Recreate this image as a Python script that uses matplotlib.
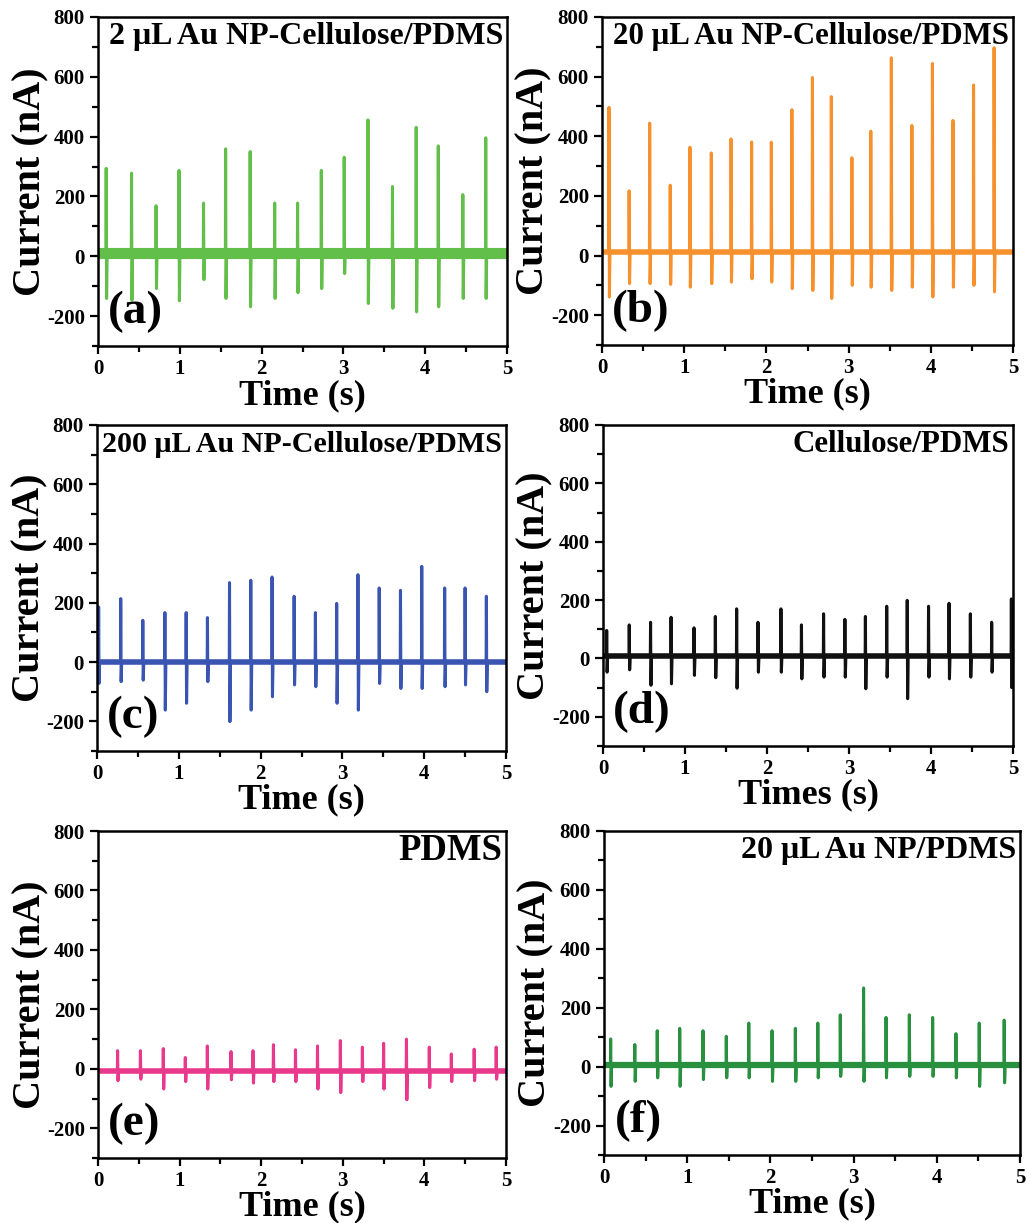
import matplotlib
matplotlib.use("Agg")
from matplotlib import pyplot as plt
from matplotlib.ticker import MultipleLocator

plt.rcParams['font.family'] = ['Liberation Serif', 'DejaVu Serif']
plt.rcParams['font.weight'] = 'bold'
plt.rcParams['axes.unicode_minus'] = False

# (a) 2 uL Au NP-Cellulose/PDMS
a_times = [0.10, 0.41, 0.71, 0.99, 1.29, 1.56, 1.86, 2.16, 2.44, 2.73, 3.01, 3.30, 3.60, 3.89, 4.16, 4.46, 4.74]
a_peaks = [294, 278, 169, 287, 178, 359, 350, 178, 178, 287, 331, 456, 233, 431, 369, 206, 396]
a_troughs = [-141, -147, -108, -149, -78, -141, -169, -141, -122, -108, -58, -158, -174, -186, -169, -141, -141]

# (b) 20 uL Au NP-Cellulose/PDMS
b_times = [0.085, 0.33, 0.58, 0.83, 1.07, 1.33, 1.57, 1.82, 2.06, 2.31, 2.56, 2.79, 3.04, 3.27, 3.52, 3.77, 4.02, 4.27, 4.52, 4.77]
b_peaks = [497, 217, 444, 236, 363, 344, 391, 381, 380, 489, 597, 533, 328, 417, 663, 436, 644, 453, 572, 697]
b_troughs = [-139, -94, -94, -97, -106, -94, -89, -78, -89, -111, -117, -144, -100, -106, -117, -106, -139, -106, -100, -122]

# (c) 200 uL Au NP-Cellulose/PDMS
c_times = [0.02, 0.29, 0.56, 0.83, 1.09, 1.35, 1.62, 1.88, 2.14, 2.41, 2.67, 2.93, 3.19, 3.45, 3.71, 3.97, 4.25, 4.50, 4.76]
c_peaks = [186, 214, 141, 167, 167, 150, 268, 276, 287, 222, 167, 198, 295, 250, 242, 323, 250, 250, 222]
c_troughs = [-72, -66, -61, -162, -139, -66, -201, -162, -117, -77, -83, -139, -162, -72, -89, -89, -83, -77, -100]

# (d) Cellulose/PDMS
d_times = [0.045, 0.32, 0.58, 0.83, 1.11, 1.37, 1.63, 1.89, 2.17, 2.42, 2.69, 2.95, 3.20, 3.46, 3.71, 3.97, 4.22, 4.48, 4.74, 4.98]
d_peaks = [96, 115, 124, 141, 105, 144, 170, 124, 170, 115, 153, 134, 144, 179, 199, 179, 189, 153, 124, 204]
d_troughs = [-47, -39, -92, -87, -58, -66, -102, -47, -47, -70, -64, -64, -104, -64, -138, -64, -70, -64, -47, -100]

# (e) PDMS
e_times = [0.24, 0.52, 0.80, 1.07, 1.34, 1.63, 1.90, 2.15, 2.42, 2.69, 2.97, 3.24, 3.50, 3.78, 4.06, 4.33, 4.61, 4.88]
e_peaks = [61, 61, 68, 38, 77, 58, 61, 81, 64, 77, 95, 73, 86, 100, 73, 50, 66, 73]
e_troughs = [-40, -35, -68, -43, -68, -37, -48, -43, -43, -68, -80, -43, -68, -104, -63, -43, -40, -35]

# (f) 20 uL Au NP/PDMS
f_times = [0.08, 0.37, 0.64, 0.91, 1.19, 1.47, 1.74, 2.02, 2.30, 2.57, 2.84, 3.12, 3.39, 3.67, 3.95, 4.23, 4.51, 4.81]
f_peaks = [94, 75, 122, 130, 122, 103, 148, 122, 130, 148, 176, 267, 167, 176, 167, 112, 148, 158]
f_troughs = [-67, -50, -38, -67, -44, -38, -38, -50, -50, -38, -33, -50, -38, -33, -33, -38, -67, -55]

baselines = [10, 11, 0, 8, -6, 7]
titles = ['2 \u03bcL Au NP-Cellulose/PDMS', '20 \u03bcL Au NP-Cellulose/PDMS',
          '200 \u03bcL Au NP-Cellulose/PDMS', 'Cellulose/PDMS', 'PDMS', '20 \u03bcL Au NP/PDMS']
letters = ['(a)', '(b)', '(c)', '(d)', '(e)', '(f)']
xlabels = ['Time (s)', 'Time (s)', 'Time (s)', 'Times (s)', 'Time (s)', 'Time (s)']
colors = ['#62bf4a', '#f6912e', '#3a55b1', '#111111', '#e8398c', '#28903f']

series = [(a_times, a_peaks, a_troughs), (b_times, b_peaks, b_troughs),
          (c_times, c_peaks, c_troughs), (d_times, d_peaks, d_troughs),
          (e_times, e_peaks, e_troughs), (f_times, f_peaks, f_troughs)]

# axes boxes in pixels: left, top, right, bottom
boxes = [(98, 17, 507, 346), (602, 17, 1013, 345),
         (97, 425, 506, 751), (603, 425, 1013, 746),
         (98, 831, 506, 1158), (604, 831, 1020, 1155)]
band_widths = [8, 4, 4, 4, 4, 4.5]
title_sizes = [23, 22.2, 21.6, 22.3, 26.5, 23]

W, H = 1027, 1223
fig = plt.figure(figsize=(W / 100, H / 100), dpi=100)

for i in range(6):
    l, t, r, b = boxes[i]
    ax = fig.add_axes([l / W, 1 - b / H, (r - l) / W, (b - t) / H])
    times, peaks, troughs = series[i]
    base = baselines[i]
    xs = [0]
    ys = [base]
    for ti, p, q in zip(times, peaks, troughs):
        xs += [max(ti - 0.003, 0), ti, min(ti + 0.005, 5), min(ti + 0.012, 5)]
        ys += [base, p, q, base]
    xs.append(5)
    ys.append(base)
    ax.plot([0, 5], [base, base], color=colors[i], lw=band_widths[i], solid_capstyle='butt')
    ax.plot(xs, ys, color=colors[i], lw=2.2)

    ax.set_xlim(0, 5)
    ax.set_ylim(-300, 800)
    ax.xaxis.set_major_locator(MultipleLocator(1))
    ax.xaxis.set_minor_locator(MultipleLocator(0.5))
    ax.yaxis.set_major_locator(MultipleLocator(200))
    ax.yaxis.set_minor_locator(MultipleLocator(100))
    ax.tick_params(which='both', direction='out', top=False, right=False, width=1.6, labelsize=15)
    ax.tick_params(which='major', length=6)
    ax.tick_params(which='minor', length=4)
    for s in ax.spines.values():
        s.set_linewidth(1.8)
    for lab in ax.get_xticklabels() + ax.get_yticklabels():
        lab.set_fontweight('bold')

    ax.set_xlabel(xlabels[i], fontsize=26, fontweight='bold')
    ax.set_ylabel('Current (nA)', fontsize=29, fontweight='bold')
    ax.xaxis.set_label_coords(0.5, -0.1)
    ax.yaxis.set_label_coords(-0.12, 0.5)

    ax.text(0.99, 0.94, titles[i], transform=ax.transAxes, ha='right', va='center',
            fontsize=title_sizes[i], fontweight='bold')
    ax.text(0.025, 0.105, letters[i], transform=ax.transAxes, ha='left', va='center',
            fontsize=34, fontweight='bold')

fig.savefig('out.png', dpi=100)
